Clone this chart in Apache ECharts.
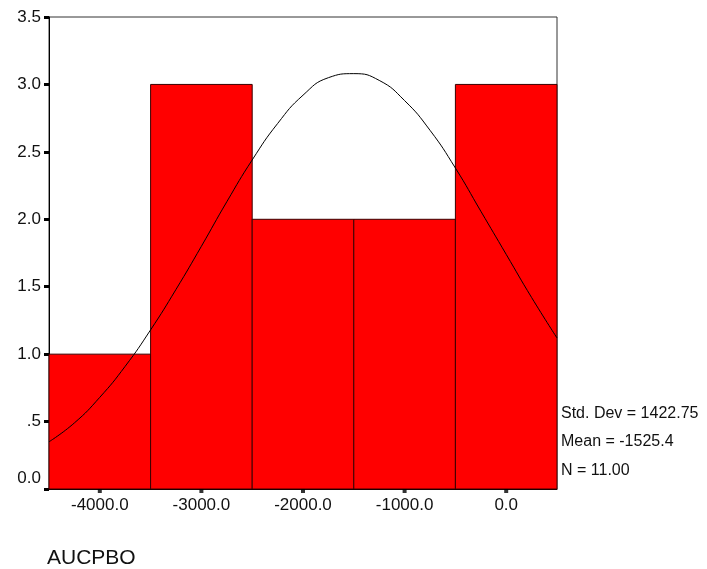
<!DOCTYPE html>
<html>
<head>
<meta charset="utf-8">
<script src="https://cdn.jsdelivr.net/npm/echarts@6/dist/echarts.min.js"></script>
<style>html,body{margin:0;padding:0;background:#fff;}#c{width:707px;height:569px;}</style>
</head>
<body>
<div id="c"></div>
<script>
// Histogram bins (centers), width, counts
const binCenters = [-4000, -3000, -2000, -1000, 0];
const binWidth = 1000;
const counts = [1, 3, 2, 2, 3];
// Normal curve points
const curveX = [-4500,-4250,-4000,-3750,-3500,-3250,-3000,-2750,-2500,-2250,-2000,-1750,-1500,-1250,-1000,-750,-500,-250,0,250,500];
const curveY = [0.35,0.49,0.68,0.91,1.18,1.48,1.80,2.13,2.44,2.71,2.92,3.05,3.08,3.03,2.88,2.66,2.38,2.06,1.74,1.42,1.12];
const xTickLabels = [-4000, -3000, -2000, -1000, 0];
const statsLines = ['Std. Dev = 1422.75', 'Mean = -1525.4', 'N = 11.00'];
const axisTitle = 'AUCPBO';

const font = 'Arial, "Liberation Sans", Helvetica, sans-serif';
const chart = echarts.init(document.getElementById('c'));
const barData = binCenters.map((c, i) => [c - binWidth / 2, c + binWidth / 2, counts[i]]);
const lineData = curveX.map((x, i) => [x, curveY[i]]);
const tickData = xTickLabels.map(v => [v, 0]);

chart.setOption({
  animation: false,
  backgroundColor: '#fff',
  grid: { left: 49, top: 17, width: 508, height: 472, show: true, borderColor: '#333', borderWidth: 1, backgroundColor: 'transparent' },
  xAxis: {
    type: 'value', min: -4500, max: 500,
    splitLine: { show: false },
    axisLine: { show: true, onZero: false, lineStyle: { color: '#000', width: 1 } },
    axisTick: { show: false },
    axisLabel: { customValues: xTickLabels, margin: 8, color: '#111', fontFamily: font, fontSize: 17,
      formatter: v => v.toFixed(1) }
  },
  yAxis: {
    type: 'value', min: 0, max: 3.5, interval: 0.5,
    splitLine: { show: false },
    axisLine: { show: true, onZero: false, lineStyle: { color: '#000', width: 1 } },
    axisTick: { show: true, length: 5, lineStyle: { color: '#000', width: 3 } },
    axisLabel: { margin: 8, color: '#111', fontFamily: font, fontSize: 17,
      formatter: v => {
        if (v === 0) return '{z|0.0}';
        const s = v.toFixed(1);
        return s.startsWith('0.') ? s.slice(1) : s;
      },
      rich: { z: { fontFamily: font, fontSize: 17, color: '#111', padding: [0, 0, 22, 0] } }
    }
  },
  series: [
    {
      type: 'custom',
      data: barData,
      encode: { x: [0, 1], y: 2 },
      renderItem: function (params, api) {
        const p0 = api.coord([api.value(0), 0]);
        const p1 = api.coord([api.value(1), api.value(2)]);
        return {
          type: 'rect',
          shape: { x: p0[0], y: p1[1], width: p1[0] - p0[0], height: p0[1] - p1[1] },
          style: { fill: '#ff0000', stroke: '#3a0000', lineWidth: 1 }
        };
      },
      z: 1
    },
    {
      type: 'line',
      data: lineData,
      smooth: true,
      showSymbol: false,
      lineStyle: { color: '#000', width: 1 },
      z: 3
    },
    {
      type: 'scatter',
      data: tickData,
      symbol: 'rect',
      symbolSize: [4, 4],
      symbolOffset: [0, 2],
      itemStyle: { color: '#000' },
      clip: false,
      silent: true,
      z: 4
    }
  ],
  graphic: [
    ...statsLines.map((t, i) => ({
      type: 'text', left: 561, top: [415, 443, 472][i] - 9,
      style: { text: t, fill: '#111', font: '16px ' + font }
    })),
    { type: 'text', left: 47, top: 548, style: { text: axisTitle, fill: '#111', font: '21px ' + font } }
  ]
});
</script>
</body>
</html>
